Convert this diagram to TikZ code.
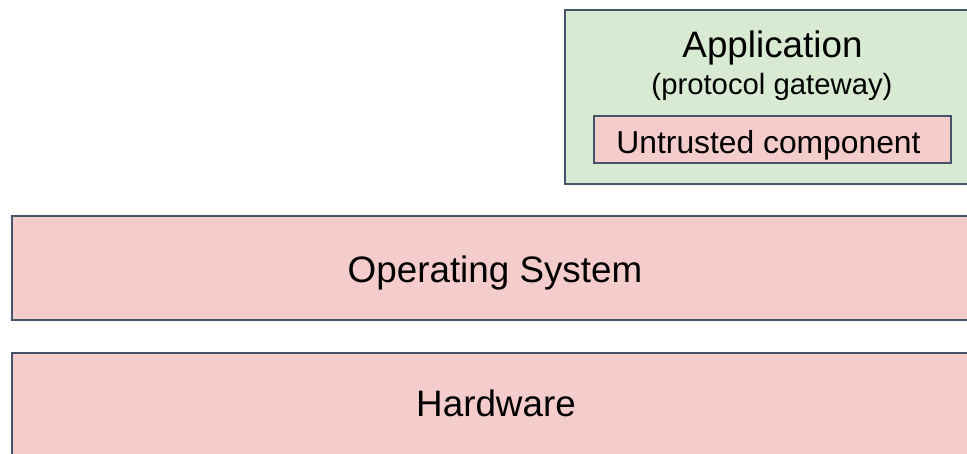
\documentclass[tikz,border=0pt]{standalone}
\usepackage{fontspec}
\setmainfont{Liberation Sans}
\definecolor{appgreen}{HTML}{D9EAD3}
\definecolor{layerpink}{HTML}{F4CCCC}
\definecolor{edgeslate}{HTML}{44546A}
\tikzset{
  layerbox/.style={draw=edgeslate, line width=2pt, inner sep=0pt, rectangle},
  bigtext/.style={anchor=base, font=\fontsize{36.8}{40}\selectfont},
  subtext/.style={anchor=base, font=\fontsize{29.3}{33}\selectfont},
  comptext/.style={anchor=base, font=\fontsize{31.8}{36}\selectfont},
}
\begin{document}
\begin{tikzpicture}[x=1pt, y=-1pt]
  \useasboundingbox (0,0) rectangle (967,453);
  % application with its untrusted part
  \node[layerbox, fill=appgreen, minimum width=415pt, minimum height=174pt] (app) at (772.5,97) {};
  \node[layerbox, fill=layerpink, minimum width=357pt, minimum height=46.5pt] (untrusted) at (772.5,139.25) {};
  \node[bigtext] (apptitle) at (772.5,57.7) {Application};
  \node[subtext] (appsub) at (772,94) {(protocol gateway)};
  \node[comptext] (untrustedlabel) at (768.5,153) {Untrusted component};
  % system layers
  \node[layerbox, fill=layerpink, minimum width=968pt, minimum height=104pt] (os) at (496,268) {};
  \node[bigtext] (oslabel) at (495,282.7) {Operating System};
  \node[layerbox, fill=layerpink, minimum width=968pt, minimum height=117pt] (hw) at (496,411.5) {};
  \node[bigtext] (hwlabel) at (496,416.7) {Hardware};
\end{tikzpicture}
\end{document}
